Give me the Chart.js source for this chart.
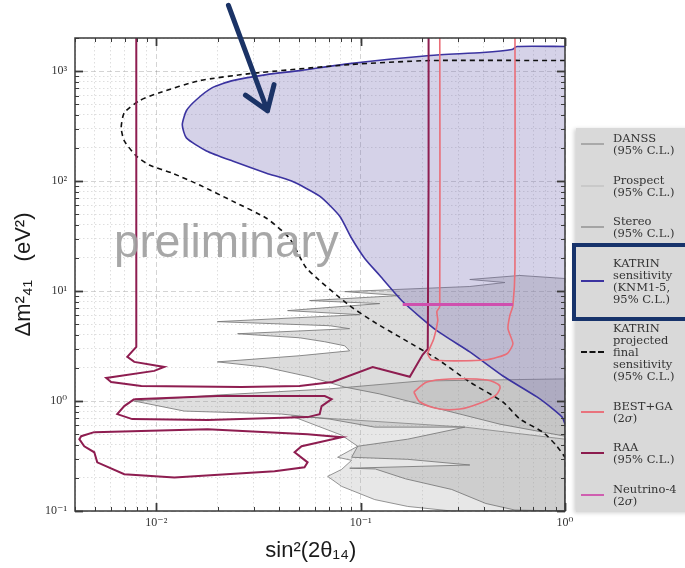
<!DOCTYPE html>
<html lang="en">
<head>
<meta charset="UTF-8">
<title>Sterile neutrino exclusion contours</title>
<script src="https://cdn.jsdelivr.net/npm/chart.js"></script>
<style>
  body { margin: 0; background: #fff; overflow: hidden; width: 685px; height: 568px; position: relative; }
  #wrap { position: absolute; left: 0; top: 0; width: 685px; height: 568px; }
  #legend { position: absolute; left: 576px; top: 128px; width: 125px; height: 384px; background: #d9d9d9;
            box-shadow: -2px 1px 4px rgba(0,0,0,0.18); padding-top: 4px; box-sizing: border-box; }
  .entry { display: flex; align-items: center; margin-bottom: 17.5px; }
  .swatch { width: 23px; height: 0; margin: 0 9px 0 5px; flex: none; }
  .txt { font: 11.5px/12px 'DejaVu Serif', serif; color: #333; white-space: nowrap; }
  #focus { position: absolute; left: 572px; width: 130px; border: 4px solid #17336b; box-sizing: border-box; }
</style>
</head>
<body>
<div id="wrap"><canvas id="chart" width="685" height="568"></canvas></div>
<div id="legend"></div>
<div id="focus"></div>

<script>
  // axis ranges and ticks
  const xMin = 0.004, xMax = 1;
  const yMin = 0.1, yMax = 2000;
  const xTicks = [0.004, 0.005, 0.006, 0.007, 0.008, 0.009, 0.01, 0.02, 0.03, 0.04, 0.05, 0.06, 0.07, 0.08, 0.09,
                  0.1, 0.2, 0.3, 0.4, 0.5, 0.6, 0.7, 0.8, 0.9, 1];
  const yTicks = [0.1, 0.2, 0.3, 0.4, 0.5, 0.6, 0.7, 0.8, 0.9, 1, 2, 3, 4, 5, 6, 7, 8, 9,
                  10, 20, 30, 40, 50, 60, 70, 80, 90, 100, 200, 300, 400, 500, 600, 700, 800, 900, 1000, 2000];
  const xMajor = [0.01, 0.1, 1];
  const xMajorLabels = ['10⁻²', '10⁻¹', '10⁰'];
  const yMajor = [0.1, 1, 10, 100, 1000];
  const yMajorLabels = ['10⁻¹', '10⁰', '10¹', '10²', '10³'];

  // KATRIN sensitivity (KNM1-5, 95% C.L.)
  const katrinX = [1, 0.582, 0.55, 0.396, 0.218, 0.0883, 0.0502, 0.0346, 0.0236, 0.0188, 0.0157, 0.01403, 0.0134,
                   0.01403, 0.0176, 0.0236, 0.0346, 0.0459, 0.063, 0.079, 0.0903, 0.1047, 0.124, 0.161, 0.236,
                   0.342, 0.497, 0.729, 0.874, 0.967, 1];
  const katrinY = [1675, 1675, 1570, 1476, 1386, 1170, 1011, 929, 819, 707, 549, 436, 325,
                   247, 188, 152, 118, 100, 72.9, 47.9, 30.2, 19.8, 13.86, 8.0, 4.36,
                   2.8, 1.69, 1.09, 0.845, 0.714, 0.617];

  // KATRIN projected final sensitivity
  const projX = [1, 0.218, 0.0883, 0.0286, 0.0163, 0.01035, 0.00826, 0.00697, 0.00673, 0.00697, 0.00798, 0.00924,
                 0.01198, 0.0163, 0.0236, 0.0346, 0.0449, 0.0544, 0.0883, 0.12, 0.161, 0.236, 0.342, 0.497,
                 0.602, 0.78, 0.913, 1];
  const projY = [1247, 1247, 1146, 948, 819, 636, 538, 418, 305, 232, 169, 140,
                 118, 92, 65.7, 45.9, 30.2, 16.1, 7.37, 5.05, 3.68, 2.42, 1.49, 0.98,
                 0.685, 0.521, 0.388, 0.308];

  // RAA (95% C.L.): open contour and two islands
  const raaX = [0.00798, 0.00798, 0.00721, 0.0078, 0.01094, 0.00977, 0.00569, 0.00601, 0.00844, 0.0261, 0.0502,
                0.0729, 0.1145, 0.174, 0.201, 0.213, 0.215, 0.215];
  const raaY = [3000, 3.11, 2.52, 2.27, 2.04, 1.88, 1.62, 1.49, 1.37, 1.34, 1.37,
                1.49, 2.04, 1.66, 2.63, 2.98, 100, 3000];
  const raaIsle1X = [0.0078, 0.0199, 0.0667, 0.0721, 0.0644, 0.063, 0.055, 0.0178, 0.00762, 0.00644, 0.00697];
  const raaIsle1Y = [1.04, 1.11, 1.11, 1.04, 0.90, 0.76, 0.714, 0.671, 0.685, 0.76, 0.90];
  const raaIsle2X = [0.00497, 0.0178, 0.055, 0.0807, 0.0514, 0.0475, 0.055, 0.0531, 0.0379, 0.01226, 0.00697,
                     0.00514, 0.00497, 0.00444, 0.0042, 0.00429];
  const raaIsle2Y = [0.521, 0.555, 0.5, 0.469, 0.388, 0.342, 0.277, 0.25, 0.23, 0.202, 0.216,
                     0.277, 0.342, 0.388, 0.45, 0.479];

  // BEST+GA (2σ)
  const bestX = [0.2438, 0.2438, 0.236, 0.2384, 0.228, 0.213, 0.223, 0.289, 0.415, 0.52, 0.556, 0.526, 0.537,
                 0.556, 0.569, 0.569];
  const bestY = [3000, 7.22, 6.5, 5.38, 3.68, 2.69, 2.37, 2.32, 2.37, 2.69, 3.32, 4.55, 5.97,
                 7.37, 16.1, 3000];
  const bestIsleX = [0.182, 0.211, 0.273, 0.415, 0.48, 0.459, 0.3745, 0.306, 0.2438, 0.195];
  const bestIsleY = [1.208, 1.49, 1.588, 1.555, 1.37, 1.134, 0.939, 0.845, 0.845, 0.979];

  // Neutrino-4 (2σ)
  const n4X = [0.1606, 0.556];
  const n4Y = [7.53, 7.53];

  // reactor exclusions (95% C.L.)
  const stereoX = [1, 0.601, 0.342, 0.508, 0.342, 0.0835, 0.155, 0.0562, 0.124, 0.0439, 0.0989, 0.0199, 0.0705,
                   0.0883, 0.025, 0.0502, 0.0667, 0.0835, 0.0883, 0.0502, 0.0199, 0.0338, 0.0562, 0.0835, 0.124,
                   0.1946, 0.306, 0.48, 1];
  const stereoY = [13.0, 13.86, 12.74, 11.96, 11.0, 9.89, 9.1, 8.19, 7.69, 6.64, 6.1, 5.27, 4.84,
                   4.55, 4.09, 3.76, 3.46, 3.18, 2.86, 2.58, 2.27, 2.04, 1.66, 1.34, 1.16,
                   0.939, 0.761, 0.616, 0.479];
  const danssX = [0.0078, 0.0199, 0.0705, 0.1946, 1, 1, 0.569, 0.41, 0.279, 0.166, 0.118, 0.0884, 0.342, 0.17,
                  0.0903, 0.0967, 0.17, 0.3236, 0.1172, 0.0705, 0.041, 0.0137];
  const danssY = [1.0, 1.134, 1.29, 1.52, 1.59, 0.1, 0.102, 0.117, 0.157, 0.196, 0.241, 0.245, 0.262, 0.295,
                  0.308, 0.388, 0.45, 0.579, 0.579, 0.685, 0.761, 0.81];
  const prospectX = [0.0459, 0.3236, 1, 1, 0.279, 0.17, 0.1172, 0.0807, 0.0689, 0.0807, 0.0903, 0.0771, 0.0967,
                     0.0807];
  const prospectY = [0.73, 0.579, 0.45, 0.1, 0.1, 0.11, 0.127, 0.1675, 0.2065, 0.239, 0.289, 0.308, 0.388, 0.489];

  const legendLabels = [
    ['DANSS', '(95% C.L.)'],
    ['Prospect', '(95% C.L.)'],
    ['Stereo', '(95% C.L.)'],
    ['KATRIN', 'sensitivity', '(KNM1-5,', '95% C.L.)'],
    ['KATRIN', 'projected', 'final', 'sensitivity', '(95% C.L.)'],
    ['BEST+GA', '(2<i>σ</i>)'],
    ['RAA', '(95% C.L.)'],
    ['Neutrino-4', '(2<i>σ</i>)']
  ];
  const legendSwatch = ['2px solid #a9a9a9', '2px solid #c9c9c9', '2px solid #a4a4a4', '2px solid #3b33a0',
                        '2px dashed #111', '2px solid #e9737d', '2.5px solid #8c1c4e', '2.5px solid #cf5fb0'];

  // annotation anchors (data coordinates)
  const watermarkAt = { x: 0.0062, y: 20.6 };
  const arrowTail = { x: 0.02254, y: 3963 };
  const arrowTip = { x: 0.035, y: 436 };

  const serif = "'Liberation Serif', 'DejaVu Serif', serif";
  const sans = "'Liberation Sans', 'DejaVu Sans', sans-serif";

  const pts = (xs, ys) => xs.map((x, i) => ({ x, y: ys[i] }));
  const ring = (xs, ys) => { const p = pts(xs, ys); p.push({ ...p[0] }); return p; };
  const isOn = (v, list) => list.some(m => Math.abs(v - m) < m * 1e-6);
  const labelFor = (v, list, labels) => {
    const k = list.findIndex(m => Math.abs(v - m) < m * 1e-6);
    return k >= 0 ? labels[k] : '';
  };

  const curve = (data, color, width, extra) => Object.assign({
    data, borderColor: color, borderWidth: width, fill: false, pointRadius: 0, tension: 0
  }, extra || {});
  const region = (data, fillColor, edgeColor) => ({
    data, backgroundColor: fillColor, borderColor: edgeColor, borderWidth: 1, fill: 'shape', pointRadius: 0, tension: 0
  });

  const datasets = [
    curve(pts(n4X, n4Y), '#cf4fae', 3),
    curve(ring(bestIsleX, bestIsleY), '#ea6e78', 1.6, { tension: 0.3 }),
    curve(pts(bestX, bestY), '#ea6e78', 1.6, { tension: 0.2 }),
    curve(pts(raaX, raaY), '#8e1d50', 2),
    curve(ring(raaIsle1X, raaIsle1Y), '#8e1d50', 2),
    curve(ring(raaIsle2X, raaIsle2Y), '#8e1d50', 2),
    curve(pts(projX, projY), '#111', 1.6, { borderDash: [5, 4], tension: 0.2 }),
    curve(pts(katrinX, katrinY), '#3b33a0', 1.6, { tension: 0.2 }),
    { data: pts(katrinX, katrinY), backgroundColor: 'rgba(115,105,178,0.3)', borderWidth: 0,
      fill: 'shape', pointRadius: 0, tension: 0.2 },
    region(ring(stereoX, stereoY), 'rgba(140,140,140,0.3)', 'rgba(120,120,120,0.85)'),
    region(ring(danssX, danssY), 'rgba(150,150,150,0.3)', 'rgba(120,120,120,0.85)'),
    region(ring(prospectX, prospectY), 'rgba(165,165,165,0.27)', 'rgba(130,130,130,0.85)')
  ];

  const gridColor = c => c.tick && (isOn(c.tick.value, xMajor) || isOn(c.tick.value, yMajor))
    ? 'rgba(0,0,0,0.17)' : 'rgba(0,0,0,0.13)';

  // watermark, frame with inward ticks, and the pointer arrow
  const decorations = {
    id: 'decorations',
    afterDatasetsDraw(chart) {
      const { ctx, scales: { x, y } } = chart;
      ctx.save();
      ctx.font = '46px ' + sans;
      ctx.fillStyle = 'rgba(160,160,160,0.92)';
      ctx.textBaseline = 'alphabetic';
      ctx.fillText('preliminary', x.getPixelForValue(watermarkAt.x), y.getPixelForValue(watermarkAt.y));
      ctx.restore();
    },
    afterDraw(chart) {
      const { ctx, chartArea: a, scales: { x, y } } = chart;
      ctx.save();
      ctx.strokeStyle = '#3a3a3a';
      const seg = (x1, y1, x2, y2) => { ctx.beginPath(); ctx.moveTo(x1, y1); ctx.lineTo(x2, y2); ctx.stroke(); };
      x.ticks.forEach(t => {
        const big = isOn(t.value, xMajor);
        const px = Math.round(x.getPixelForValue(t.value)) + 0.5;
        ctx.lineWidth = big ? 1.8 : 1;
        const len = big ? 8 : 4;
        seg(px, a.bottom, px, a.bottom - len);
        seg(px, a.top, px, a.top + len);
      });
      y.ticks.forEach(t => {
        const big = isOn(t.value, yMajor);
        const py = Math.round(y.getPixelForValue(t.value)) + 0.5;
        ctx.lineWidth = big ? 1.8 : 1;
        const len = big ? 8 : 4;
        seg(a.left, py, a.left + len, py);
        seg(a.right, py, a.right - len, py);
      });
      ctx.lineWidth = 1.5;
      ctx.strokeRect(a.left, a.top, a.right - a.left, a.bottom - a.top);

      const tx = x.getPixelForValue(arrowTail.x), ty = y.getPixelForValue(arrowTail.y);
      const hx = x.getPixelForValue(arrowTip.x), hy = y.getPixelForValue(arrowTip.y);
      const ang = Math.atan2(hy - ty, hx - tx);
      ctx.strokeStyle = '#1b3366';
      ctx.lineWidth = 5;
      ctx.lineCap = 'round';
      ctx.lineJoin = 'round';
      ctx.beginPath();
      ctx.moveTo(tx, ty);
      ctx.lineTo(hx, hy);
      [-1, 1].forEach(s => {
        ctx.moveTo(hx, hy);
        ctx.lineTo(hx - 27 * Math.cos(ang + s * 0.6), hy - 27 * Math.sin(ang + s * 0.6));
      });
      ctx.stroke();
      ctx.restore();
    }
  };

  const tickFont = { family: serif, size: 12 };

  new Chart(document.getElementById('chart'), {
    type: 'line',
    data: { datasets },
    options: {
      responsive: false,
      animation: false,
      events: [],
      layout: { padding: { top: 38, right: 120, left: 0, bottom: 0 } },
      plugins: { legend: { display: false }, tooltip: { enabled: false } },
      scales: {
        x: {
          type: 'logarithmic', min: xMin, max: xMax,
          afterBuildTicks: s => { s.ticks = xTicks.map(v => ({ value: v })); },
          afterFit: s => { s.height = 57; },
          ticks: { autoSkip: false, maxRotation: 0, minRotation: 0, padding: 5, color: '#333', font: tickFont,
                   callback: v => labelFor(v, xMajor, xMajorLabels) },
          grid: { drawTicks: false, color: gridColor, lineWidth: 1 },
          border: { display: false, dash: c => (c.tick && isOn(c.tick.value, xMajor)) ? [5, 3] : [1.5, 2.5] },
          title: { display: true, text: 'sin²(2θ₁₄)   ', color: '#1a1a1a', font: { family: sans, size: 22 },
                   padding: { top: 0, bottom: 4 } }
        },
        y: {
          type: 'logarithmic', min: yMin, max: yMax,
          afterBuildTicks: s => { s.ticks = yTicks.map(v => ({ value: v })); },
          afterFit: s => { s.width = 75; },
          ticks: { autoSkip: false, padding: 8, color: '#333', font: tickFont,
                   callback: v => labelFor(v, yMajor, yMajorLabels) },
          grid: { drawTicks: false, color: gridColor, lineWidth: 1 },
          border: { display: false, dash: c => (c.tick && isOn(c.tick.value, yMajor)) ? [5, 3] : [1.5, 2.5] },
          title: { display: true, text: 'Δm²₄₁   (eV²)', color: '#1a1a1a', font: { family: sans, size: 22 },
                   padding: { top: 11 } }
        }
      }
    },
    plugins: [decorations]
  });

  // legend panel
  const legendBox = document.getElementById('legend');
  const rows = legendLabels.map((lines, i) => {
    const row = document.createElement('div');
    row.className = 'entry';
    const sw = document.createElement('span');
    sw.className = 'swatch';
    sw.style.borderTop = legendSwatch[i];
    const tx = document.createElement('span');
    tx.className = 'txt';
    tx.innerHTML = lines.join('<br>');
    row.append(sw, tx);
    legendBox.append(row);
    return row;
  });
  const focusRow = rows[3].getBoundingClientRect();
  const focus = document.getElementById('focus');
  focus.style.top = (focusRow.top - 14) + 'px';
  focus.style.height = (focusRow.height + 30) + 'px';
</script>
</body>
</html>
